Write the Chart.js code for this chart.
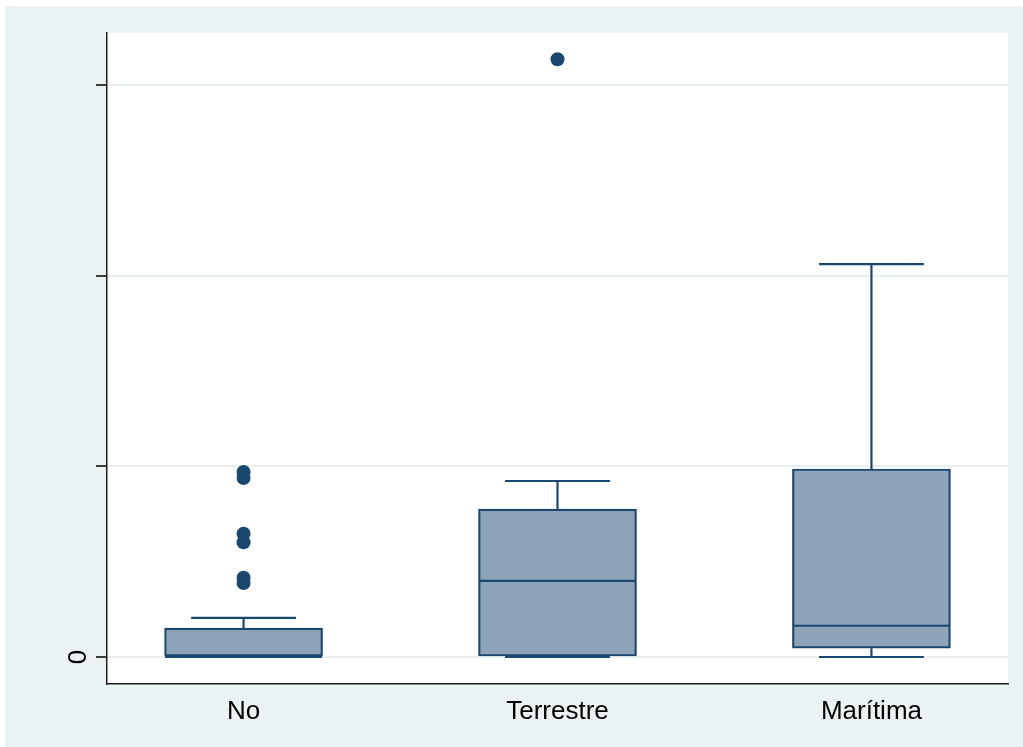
<!DOCTYPE html>
<html>
<head>
<meta charset="utf-8">
<script src="https://cdn.jsdelivr.net/npm/chart.js@4"></script>
<style>
  html, body { margin: 0; padding: 0; background: #fff; }
  canvas { display: block; }
</style>
</head>
<body>
<canvas id="box-chart" width="1023" height="747"></canvas>
<script>
// box plot values (y in tick units)
const categories = ['No', 'Terrestre', 'Marítima'];
const q1 = [0, 0, 0.046];
const median = [0, 0.399, 0.164];
const q3 = [0.152, 0.776, 0.986];
const whiskerLow = [0, 0, 0];
const whiskerHigh = [0.205, 0.923, 2.061];
const outliersNo = [0.970, 0.939, 0.647, 0.602, 0.416, 0.388];
const outliersTerrestre = [3.135];
const outliersMaritima = [];
const yTicks = [0, 1, 2, 3];
const yTickLabels = ['0', '', '', ''];

const navy = '#1A476F';
const boxFill = '#8DA3B7';
const boxHalf = 0.25;
const capHalf = 0.167;

document.addEventListener("DOMContentLoaded", function() {
	const ctx = document.getElementById('box-chart').getContext('2d');

	// background panels
	const bgPlugin = {
		id: 'bg',
		beforeDraw(chart) {
			const c = chart.ctx;
			const a = chart.chartArea;
			c.save();
			c.fillStyle = '#ffffff';
			c.fillRect(0, 0, chart.width, chart.height);
			c.fillStyle = '#EAF2F3';
			c.fillRect(5, 6, chart.width - 5, chart.height - 6);
			c.fillStyle = '#ffffff';
			c.fillRect(a.left, a.top, a.right - a.left, a.bottom - a.top);
			c.restore();
		}
	};

	const seg = (x1, y1, x2, y2) => ({
		type: 'scatter',
		data: [{x: x1, y: y1}, {x: x2, y: y2}],
		showLine: true,
		borderColor: navy,
		borderWidth: 2.2,
		pointRadius: 0,
		pointHoverRadius: 0,
		order: 1
	});

	let datasets = [];

	// boxes
	datasets.push({
		type: 'bar',
		data: categories.map((c, i) => ({x: i + 1, y: [q1[i], q3[i]]})),
		backgroundColor: boxFill,
		borderColor: navy,
		borderWidth: 2.2,
		borderSkipped: false,
		barThickness: 158,
		grouped: false,
		order: 3
	});

	// medians and whiskers
	for (let i in categories) {
		let x = Number(i) + 1;
		datasets.push(seg(x - boxHalf, median[i], x + boxHalf, median[i]));
		datasets.push(seg(x, q3[i], x, whiskerHigh[i]));
		datasets.push(seg(x - capHalf, whiskerHigh[i], x + capHalf, whiskerHigh[i]));
		datasets.push(seg(x, q1[i], x, whiskerLow[i]));
		datasets.push(seg(x - capHalf, whiskerLow[i], x + capHalf, whiskerLow[i]));
	}

	// outside values
	const outliers = [outliersNo, outliersTerrestre, outliersMaritima];
	let outPoints = [];
	for (let i in outliers) {
		for (let v of outliers[i]) {
			outPoints.push({x: Number(i) + 1, y: v});
		}
	}
	datasets.push({
		type: 'scatter',
		data: outPoints,
		backgroundColor: navy,
		borderWidth: 0,
		pointRadius: 7,
		pointHoverRadius: 7,
		order: 0
	});

	new Chart(ctx, {
		type: 'bar',
		data: { datasets: datasets },
		plugins: [bgPlugin],
		options: {
			responsive: false,
			animation: false,
			devicePixelRatio: 1,
			layout: {
				padding: { top: 33, right: 15, left: 0, bottom: 0 }
			},
			plugins: {
				legend: { display: false },
				tooltip: { enabled: false }
			},
			scales: {
				x: {
					type: 'linear',
					offset: false,
					min: 0.565,
					max: 3.435,
					afterBuildTicks: (scale) => {
						scale.ticks = categories.map((c, i) => ({value: i + 1}));
					},
					afterFit: (scale) => { scale.height = 63; },
					grid: { display: false, drawTicks: false },
					border: { display: true, color: '#222', width: 1.5 },
					ticks: {
						padding: 12,
						color: '#000',
						maxRotation: 0,
						font: { family: 'Liberation Sans', size: 26 },
						callback: (v) => categories[Math.round(v) - 1]
					}
				},
				y: {
					type: 'linear',
					min: -0.1416,
					max: 3.2727,
					afterBuildTicks: (scale) => {
						scale.ticks = yTicks.map(v => ({value: v}));
					},
					afterFit: (scale) => { scale.width = 107; },
					grid: {
						color: '#E8F0F2',
						lineWidth: 2,
						tickColor: '#000',
						tickWidth: 1.5,
						tickLength: 11
					},
					border: { display: true, color: '#222', width: 1.5 },
					ticks: {
						padding: 10,
						color: '#000',
						minRotation: 90,
						maxRotation: 90,
						crossAlign: 'center',
						font: { family: 'Liberation Sans', size: 26 },
						callback: (v) => yTickLabels[yTicks.indexOf(v)]
					}
				}
			}
		}
	});
});
</script>
</body>
</html>
